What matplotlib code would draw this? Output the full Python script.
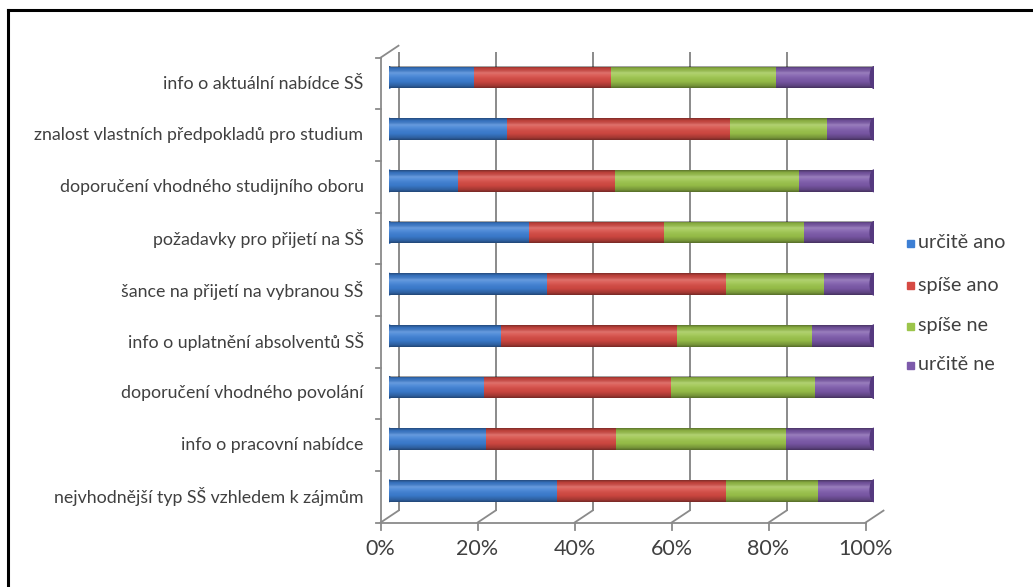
import numpy as np
import matplotlib
matplotlib.use("Agg")
import matplotlib.pyplot as plt
from matplotlib.transforms import offset_copy, IdentityTransform
from matplotlib.lines import Line2D
from matplotlib.patches import Ellipse, Rectangle

plt.rcParams["font.family"] = ["Lato", "DejaVu Sans"]

# Survey items, listed top to bottom
categories = [
    "info o aktuální nabídce SŠ",
    "znalost vlastních předpokladů pro studium",
    "doporučení vhodného studijního oboru",
    "požadavky pro přijetí na SŠ",
    "šance na přijetí na vybranou SŠ",
    "info o uplatnění absolventů SŠ",
    "doporučení vhodného povolání",
    "info o pracovní nabídce",
    "nejvhodnější typ SŠ vzhledem k zájmům",
]
series_names = ["určitě ano", "spíše ano", "spíše ne", "určitě ne"]
urcite_ano = [17.5, 24.3, 14.2, 28.8, 32.5, 23.1, 19.5, 19.9, 34.6]
spise_ano = [28.2, 46.1, 32.4, 27.8, 37.0, 36.3, 38.7, 27.0, 34.8]
spise_ne = [34.1, 20.0, 38.0, 29.0, 20.2, 27.8, 29.7, 35.0, 19.0]
urcite_ne = [20.2, 9.6, 15.4, 14.4, 10.3, 12.8, 12.1, 18.1, 11.6]
x_ticks = [0, 20, 40, 60, 80, 100]
x_tick_labels = ["0%", "20%", "40%", "60%", "80%", "100%"]

colors = ["#3d7fd4", "#d64a43", "#9cc54b", "#7d5aab"]
cap_colors = ["#2c5fa3", "#a8342f", "#76993a", "#55397f"]
grid_color = "#8a8a8a"
text_color = "#404040"

W, H = 1033, 587
fig = plt.figure(figsize=(W / 100, H / 100), dpi=100)
fig.patch.set_facecolor("white")

# plot area (middle depth plane of the pseudo-3D box), in pixels
left_px, right_px, top_px, bottom_px = 389, 874, 51.7, 516.6
ax = fig.add_axes([left_px / W, 1 - bottom_px / H,
                   (right_px - left_px) / W, (bottom_px - top_px) / H])
ax.set_axis_off()
n = len(categories)
ax.set_xlim(0, 100)
ax.set_ylim(0, n)
ax.set_autoscale_on(False)

# depth offsets for the back wall and the front edge
back = offset_copy(ax.transData, fig=fig, x=9.5, y=6, units="dots")
front = offset_copy(ax.transData, fig=fig, x=-8.5, y=-6, units="dots")

# back-wall gridlines
for xv in x_ticks:
    ax.plot([xv, xv], [0, n], color=grid_color, lw=1.4, transform=back,
            zorder=1, solid_capstyle="butt")


def seg(p0, t0, p1, t1, **kw):
    a = t0.transform(p0)
    b = t1.transform(p1)
    fig.add_artist(Line2D([a[0], b[0]], [a[1], b[1]],
                          transform=IdentityTransform(), **kw))


axis_kw = dict(color=grid_color, lw=1.3)
# floor: front edge, depth diagonals, ticks
seg((0, 0), front, (100, 0), front, **axis_kw)
for xv in x_ticks:
    seg((xv, 0), front, (xv, 0), back, **axis_kw)
    a = front.transform((xv, 0))
    fig.add_artist(Line2D([a[0], a[0]], [a[1], a[1] - 7],
                          transform=IdentityTransform(), **axis_kw))
# left wall
seg((0, 0), front, (0, n), front, **axis_kw)
seg((0, n), front, (0, n), back, **axis_kw)
for j in range(n + 1):
    a = front.transform((0, j))
    fig.add_artist(Line2D([a[0] - 5, a[0]], [a[1], a[1]],
                          transform=IdentityTransform(), **axis_kw))

# stacked cylinders
ypos = np.arange(n)[::-1] + 0.5
bar_h = 0.42
data = [urcite_ano, spise_ano, spise_ne, urcite_ne]
lefts = np.zeros(n)
for vals, c, name in zip(data, colors, series_names):
    ax.barh(ypos, vals, left=lefts, height=bar_h, color=c, edgecolor="none",
            label=name, zorder=3)
    lefts = lefts + np.array(vals)

# cylinder shading overlay
stops = np.array([
    [0.00, 0, 0, 0, 0.40],
    [0.12, 0, 0, 0, 0.10],
    [0.30, 1, 1, 1, 0.22],
    [0.45, 1, 1, 1, 0.10],
    [0.70, 0, 0, 0, 0.05],
    [0.90, 0, 0, 0, 0.25],
    [1.00, 0, 0, 0, 0.45],
])
t = np.linspace(0, 1, 64)
grad = np.stack([np.interp(t, stops[:, 0], stops[:, k]) for k in range(1, 5)], axis=1)
grad = grad[:, None, :]
cap_w = 1.6
for y in ypos:
    ax.add_patch(Ellipse((0, y), cap_w, bar_h, color=colors[0], zorder=2.9))
    ax.add_patch(Ellipse((lefts[0], y), cap_w, bar_h, color=cap_colors[3], zorder=4))
    ax.imshow(grad, extent=[-cap_w / 2, 100, y - bar_h / 2, y + bar_h / 2],
              aspect="auto", interpolation="bilinear", zorder=3.5)

# category labels
lab_tr = offset_copy(ax.transData, fig=fig, x=-8.5 - 17, y=-6, units="dots")
for y, name in zip(ypos, categories):
    ax.text(0, y, name, transform=lab_tr, ha="right", va="center",
            fontsize=12.8, color=text_color)

# percentage labels
xl_tr = offset_copy(ax.transData, fig=fig, x=-8.5, y=-6 - 26, units="dots")
for xv, lab in zip(x_ticks, x_tick_labels):
    ax.text(xv, 0, lab, transform=xl_tr, ha="center", va="center",
            fontsize=15.5, color=text_color)

# legend
leg_y = [243, 285, 326, 365]
for name, c, yy in zip(series_names, colors, leg_y):
    fig.add_artist(Rectangle((907 / W, 1 - (yy + 3.5) / H), 7 / W, 7 / H,
                             transform=fig.transFigure, color=c))
    fig.text(918 / W, 1 - yy / H, name, ha="left", va="center",
             fontsize=14.3, color=text_color)

# chart frame
fig.add_artist(Line2D([7.5 / W, 7.5 / W], [1 - 10 / H, 0], color="black", lw=2.2,
                      transform=fig.transFigure))
fig.add_artist(Line2D([7.5 / W, 1], [1 - 10 / H, 1 - 10 / H], color="black", lw=2.2,
                      transform=fig.transFigure))

fig.savefig("out.png", dpi=100)
